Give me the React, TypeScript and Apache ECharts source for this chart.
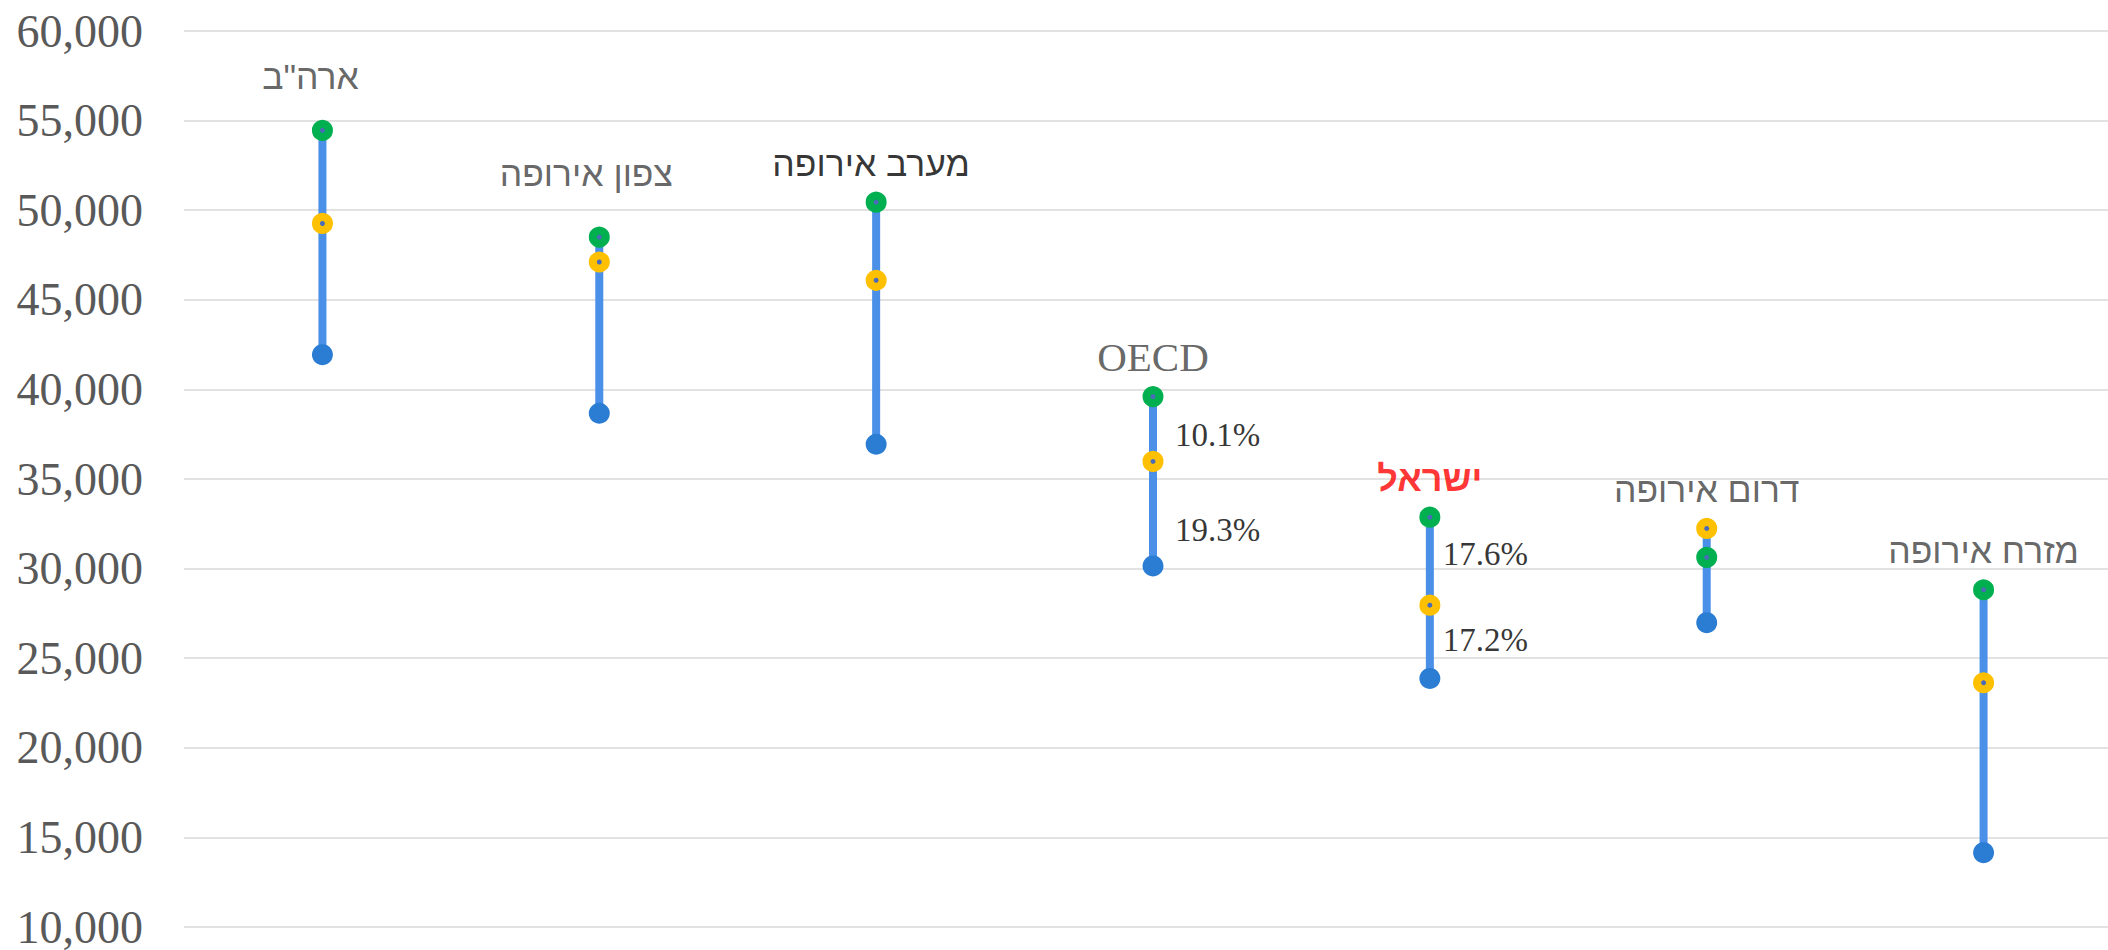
import React, { useEffect, useRef } from "react";
import * as echarts from "echarts";

const categories = ['ארה"ב', "צפון אירופה", "מערב אירופה", "OECD", "ישראל", "דרום אירופה", "מזרח אירופה"];
const greenValues = [54450, 48500, 50450, 39600, 32870, 30630, 28820];
const yellowValues = [49260, 47110, 46090, 35980, 27960, 32240, 23630];
const blueValues = [41940, 38670, 36940, 30150, 23870, 26980, 14150];
const upperPct = ["", "", "", "10.1%", "17.6%", "", ""];
const lowerPct = ["", "", "", "19.3%", "17.2%", "", ""];
const yMin = 10000;
const yMax = 60000;
const yStep = 5000;

// layout (not data)
const labelShift: [number, number][] = [
  [-12, -53],
  [-13, -63],
  [-5, -38],
  [0, -40],
  [0, -39],
  [0, -38],
  [0, -39],
];
const labelColors = ["#404040", "#404040", "#000000", "#404040", "#ff0000", "#404040", "#404040"];
const upperPctOffset: Record<number, [number, number]> = { 3: [22, 6], 4: [13, -7] };
const lowerPctOffset: Record<number, [number, number]> = { 3: [22, 16], 4: [13, -2] };

export default function App() {
  const ref = useRef<HTMLDivElement>(null);
  useEffect(() => {
    document.body.style.margin = "0";
    const chart = echarts.init(ref.current!, undefined, { renderer: "svg" });
    const lows = categories.map((_, i) => Math.min(greenValues[i], yellowValues[i], blueValues[i]));
    const highs = categories.map((_, i) => Math.max(greenValues[i], yellowValues[i], blueValues[i]));

    const ringStyle = (c: string) => ({
      color: "#4a6cb8",
      borderColor: c,
      borderWidth: 8,
      opacity: 1,
    });

    const option: any = {
      animation: false,
      backgroundColor: "#ffffff",
      grid: { left: 184, top: 31, right: 0, bottom: 19, containLabel: false },
      xAxis: {
        type: "category",
        data: categories,
        axisLabel: { show: false },
        axisLine: { show: false },
        axisTick: { show: false },
        splitLine: { show: false },
      },
      yAxis: {
        type: "value",
        min: yMin,
        max: yMax,
        interval: yStep,
        axisLine: { show: false },
        axisTick: { show: false },
        splitLine: { lineStyle: { color: "#d9d9d9", width: 1.5 } },
        axisLabel: {
          margin: 41,
          color: "#595959",
          fontFamily: "Liberation Serif",
          fontSize: 46,
          lineHeight: 32,
          formatter: (v: number) => v.toLocaleString("en-US"),
        },
      },
      series: [
        {
          type: "custom",
          z: 1,
          data: categories.map((_, i) => [i, lows[i], highs[i]]),
          renderItem: (params: any, api: any) => {
            const p1 = api.coord([api.value(0), api.value(1)]);
            const p2 = api.coord([api.value(0), api.value(2)]);
            return {
              type: "line",
              shape: { x1: p1[0], y1: p1[1], x2: p2[0], y2: p2[1] },
              style: { stroke: "#4a90e8", lineWidth: 8 },
            };
          },
        },
        {
          type: "scatter",
          z: 2,
          symbol: "circle",
          symbolSize: 21,
          itemStyle: { color: "#2b7cd3", opacity: 1 },
          data: blueValues.map((v, i) => [i, v]),
        },
        {
          type: "scatter",
          z: 3,
          symbol: "circle",
          symbolSize: 13,
          itemStyle: ringStyle("#00b050"),
          data: greenValues.map((v, i) => [i, v]),
        },
        {
          type: "scatter",
          z: 4,
          symbol: "circle",
          symbolSize: 13,
          itemStyle: ringStyle("#ffc000"),
          data: yellowValues.map((v, i) => [i, v]),
        },
        {
          type: "scatter",
          z: 5,
          symbolSize: 1,
          itemStyle: { color: "rgba(0,0,0,0)" },
          data: categories.map((c, i) => ({
            value: [i, highs[i]],
            label: {
              show: true,
              position: "inside",
              offset: labelShift[i],
              formatter: c,
              color: labelColors[i],
              fontSize: c === "OECD" ? 41 : c === "ישראל" ? 36 : 35.5,
              fontWeight: c === "ישראל" ? "bold" : "normal",
              fontFamily: c === "OECD" ? "Liberation Serif" : "Liberation Sans",
            },
          })),
        },
        {
          type: "scatter",
          z: 5,
          symbolSize: 1,
          itemStyle: { color: "rgba(0,0,0,0)" },
          data: categories
            .map((_, i) => i)
            .filter((i) => upperPct[i] !== "")
            .map((i) => ({
              value: [i, (greenValues[i] + yellowValues[i]) / 2],
              label: {
                show: true,
                position: "inside",
                align: "left",
                offset: upperPctOffset[i] || [15, 0],
                formatter: upperPct[i],
                color: "#000000",
                fontSize: 33,
                fontFamily: "Liberation Serif",
              },
            })),
        },
        {
          type: "scatter",
          z: 5,
          symbolSize: 1,
          itemStyle: { color: "rgba(0,0,0,0)" },
          data: categories
            .map((_, i) => i)
            .filter((i) => lowerPct[i] !== "")
            .map((i) => ({
              value: [i, (yellowValues[i] + blueValues[i]) / 2],
              label: {
                show: true,
                position: "inside",
                align: "left",
                offset: lowerPctOffset[i] || [15, 0],
                formatter: lowerPct[i],
                color: "#000000",
                fontSize: 33,
                fontFamily: "Liberation Serif",
              },
            })),
        },
      ],
    };
    chart.setOption(option);
    return () => chart.dispose();
  }, []);
  return (
    <div
      ref={ref}
      style={{ position: "fixed", left: 0, top: 0, width: 2122, height: 950, background: "#fff" }}
    />
  );
}
